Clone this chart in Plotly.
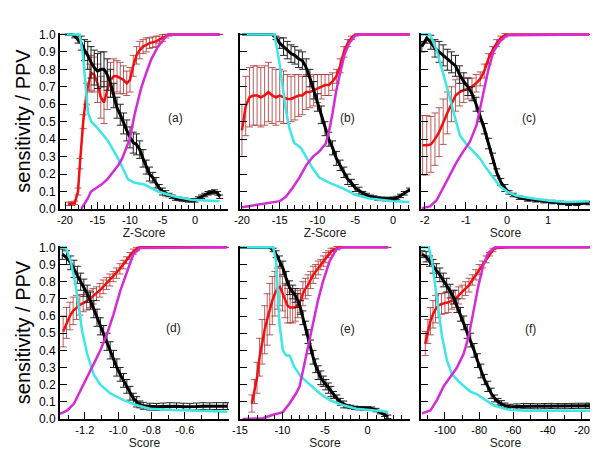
import plotly.graph_objects as go

# ---- panel (a) : Z-Score
a_cyan_x = [-20, -17.74, -17.23, -16.72, -16.46, -15.95, -14.92, -13.38, -11.85, -10.82, -10.31, -9.28, -7.74, -5.69, -3.13, -0.56, 3.8]
a_cyan_y = [1.0, 1.0, 0.88, 0.69, 0.55, 0.50, 0.46, 0.39, 0.29, 0.21, 0.17, 0.15, 0.14, 0.10, 0.072, 0.053, 0.044]
a_mag_x = [-17.5, -17, -16.5, -16, -15, -14.4, -13.5, -12.9, -11.8, -11.2, -10.8, -10.05, -9.3, -8.8, -8.3, -7.5, -6.7, -5.7, -4.9, -4.2, -2, 0, 2, 3.8]
a_mag_y = [0.0, 0.03, 0.06, 0.1, 0.125, 0.14, 0.17, 0.2, 0.25, 0.29, 0.33, 0.40, 0.54, 0.62, 0.69, 0.78, 0.86, 0.93, 0.97, 1.0, 1.0, 1.0, 1.0, 1.0]
a_red_x = [-19.5, -19, -18.5, -18, -17.7, -17.2, -16.7, -16.2, -16, -15.5, -15, -14.5, -14, -13.5, -13, -12.5, -12, -11.5, -11, -10.5, -10, -9.5, -9, -8.5, -8, -7.5, -7, -6.5, -6, -5.5, -5, -4.5, -4, -3, -2, -1, 0, 1, 2, 3, 3.8]
a_red_y = [0.03, 0.03, 0.035, 0.10, 0.26, 0.50, 0.66, 0.75, 0.78, 0.77, 0.72, 0.64, 0.61, 0.68, 0.74, 0.76, 0.76, 0.75, 0.74, 0.72, 0.74, 0.82, 0.88, 0.91, 0.93, 0.94, 0.95, 0.955, 0.96, 0.97, 0.98, 0.99, 1.0, 1.0, 1.0, 1.0, 1.0, 1.0, 1.0, 1.0, 1.0]
a_red_e = [0.01, 0.01, 0.01, 0.02, 0.03, 0.04, 0.06, 0.08, 0.1, 0.1, 0.11, 0.12, 0.12, 0.11, 0.1, 0.1, 0.09, 0.09, 0.08, 0.07, 0.07, 0.06, 0.05, 0.05, 0.04, 0.04, 0.03, 0.03, 0.03, 0.02, 0.02, 0.01, 0.01, 0, 0, 0, 0, 0, 0, 0, 0]
a_blk_x = [-20, -19, -18.5, -18, -17.5, -17, -16.5, -16, -15.5, -15, -14.5, -14, -13.5, -13, -12.5, -12, -11.5, -11, -10.5, -10, -9.5, -9, -8.5, -8, -7.5, -7, -6.5, -6, -5.5, -5, -4.5, -4, -3.5, -3, -2.5, -2, -1.5, -1, -0.5, 0, 0.5, 1, 1.5, 2, 2.5, 3, 3.5, 3.8]
a_blk_y = [1.0, 1.0, 0.99, 0.97, 0.95, 0.91, 0.88, 0.84, 0.81, 0.79, 0.80, 0.80, 0.77, 0.72, 0.65, 0.58, 0.54, 0.49, 0.45, 0.41, 0.38, 0.37, 0.34, 0.29, 0.24, 0.20, 0.18, 0.15, 0.12, 0.10, 0.09, 0.08, 0.07, 0.06, 0.058, 0.055, 0.052, 0.05, 0.05, 0.05, 0.06, 0.07, 0.08, 0.09, 0.095, 0.10, 0.09, 0.07]
a_blk_e = [0, 0, 0.01, 0.02, 0.04, 0.06, 0.08, 0.09, 0.1, 0.1, 0.1, 0.1, 0.09, 0.08, 0.07, 0.06, 0.06, 0.06, 0.06, 0.06, 0.06, 0.06, 0.05, 0.05, 0.04, 0.04, 0.03, 0.03, 0.02, 0.02, 0.015, 0.01, 0.01, 0.01, 0.01, 0.01, 0.01, 0.01, 0.01, 0.01, 0.01, 0.01, 0.01, 0.01, 0.01, 0.01, 0.01, 0.01]

# ---- panel (b) : Z-Score
b_cyan_x = [-20, -15.7, -15.05, -14.6, -14.2, -13.7, -13.1, -12.2, -11.5, -10.6, -9.75, -8.4, -6.7, -4.9, -3.1, -1.4, 0, 2.2]
b_cyan_y = [1.0, 1.0, 0.84, 0.71, 0.57, 0.46, 0.38, 0.35, 0.30, 0.23, 0.18, 0.15, 0.12, 0.08, 0.06, 0.05, 0.045, 0.04]
b_mag_x = [-20, -16.4, -15, -14.2, -13.3, -12.4, -11.5, -10.6, -9.75, -8.9, -8.4, -8.0, -7.55, -7.1, -6.45, -5.8, -4.9, 2.2]
b_mag_y = [0.01, 0.035, 0.045, 0.07, 0.12, 0.18, 0.25, 0.30, 0.33, 0.375, 0.46, 0.55, 0.67, 0.76, 0.88, 0.95, 1.0, 1.0]
b_red_x = [-20, -19.5, -19, -18.5, -18, -17.5, -17, -16.5, -16, -15.5, -15, -14.5, -14, -13.5, -13, -12.5, -12, -11.5, -11, -10.5, -10, -9.5, -9, -8.5, -8, -7.5, -7, -6.5, -6, -5.5, -5, -4, -3, -2, -1, 0, 1, 2.2]
b_red_y = [0.45, 0.59, 0.64, 0.65, 0.65, 0.64, 0.65, 0.67, 0.65, 0.64, 0.65, 0.64, 0.63, 0.63, 0.64, 0.65, 0.65, 0.67, 0.67, 0.68, 0.69, 0.70, 0.71, 0.71, 0.73, 0.76, 0.82, 0.90, 0.95, 0.98, 1.0, 1.0, 1.0, 1.0, 1.0, 1.0, 1.0, 1.0]
b_red_e = [0.15, 0.17, 0.17, 0.17, 0.17, 0.17, 0.17, 0.17, 0.16, 0.16, 0.15, 0.15, 0.14, 0.13, 0.13, 0.12, 0.11, 0.10, 0.09, 0.09, 0.08, 0.07, 0.06, 0.06, 0.05, 0.04, 0.04, 0.03, 0.02, 0.01, 0.01, 0, 0, 0, 0, 0, 0, 0]
b_blk_x = [-20, -16, -15.5, -15, -14.5, -14, -13.5, -13, -12.5, -12, -11.5, -11, -10.5, -10, -9.5, -9, -8.5, -8, -7.5, -7, -6.5, -6, -5.5, -5, -4.5, -4, -3.5, -3, -2.5, -2, -1.5, -1, -0.5, 0, 0.5, 1, 1.5, 2.2]
b_blk_y = [1.0, 1.0, 0.98, 0.95, 0.93, 0.91, 0.89, 0.88, 0.86, 0.85, 0.81, 0.75, 0.68, 0.61, 0.54, 0.46, 0.40, 0.35, 0.29, 0.25, 0.21, 0.17, 0.15, 0.12, 0.105, 0.09, 0.08, 0.07, 0.065, 0.06, 0.058, 0.057, 0.057, 0.058, 0.063, 0.075, 0.09, 0.11]
b_blk_e = [0, 0, 0.01, 0.03, 0.05, 0.05, 0.05, 0.05, 0.05, 0.05, 0.05, 0.05, 0.05, 0.05, 0.05, 0.04, 0.04, 0.04, 0.04, 0.03, 0.03, 0.03, 0.02, 0.02, 0.02, 0.01, 0.01, 0.01, 0.01, 0.01, 0.01, 0.01, 0.01, 0.01, 0.01, 0.01, 0.01, 0.01]

# ---- panel (c) : Score
c_cyan_x = [-2.1, -1.87, -1.71, -1.55, -1.38, -1.26, -1.14, -0.98, -0.82, -0.66, -0.49, -0.33, -0.17, 0, 0.23, 0.64, 1.04, 1.45, 2.0]
c_cyan_y = [1.0, 1.0, 0.91, 0.78, 0.63, 0.52, 0.42, 0.37, 0.33, 0.29, 0.23, 0.18, 0.13, 0.10, 0.076, 0.06, 0.047, 0.04, 0.044]
c_mag_x = [-2.07, -1.87, -1.71, -1.55, -1.38, -1.22, -1.06, -0.9, -0.74, -0.66, -0.57, -0.45, -0.33, -0.17, 0, 2.0]
c_mag_y = [0.005, 0.015, 0.05, 0.12, 0.195, 0.27, 0.33, 0.385, 0.48, 0.57, 0.67, 0.80, 0.90, 0.96, 0.995, 1.0]
c_red_x = [-2.05, -1.95, -1.85, -1.75, -1.65, -1.55, -1.45, -1.35, -1.25, -1.15, -1.05, -0.95, -0.85, -0.75, -0.65, -0.55, -0.45, -0.35, -0.25, -0.15, -0.05, 0.1, 0.3, 0.5, 0.7, 0.9, 1.1, 1.3, 1.5, 1.7, 2.0]
c_red_y = [0.365, 0.365, 0.37, 0.40, 0.44, 0.50, 0.55, 0.60, 0.65, 0.67, 0.68, 0.69, 0.70, 0.72, 0.745, 0.79, 0.86, 0.91, 0.95, 0.98, 0.995, 1.0, 1.0, 1.0, 1.0, 1.0, 1.0, 1.0, 1.0, 1.0, 1.0]
c_red_e = [0.17, 0.17, 0.16, 0.15, 0.14, 0.13, 0.12, 0.1, 0.09, 0.08, 0.07, 0.06, 0.05, 0.05, 0.04, 0.04, 0.03, 0.02, 0.02, 0.01, 0.01, 0, 0, 0, 0, 0, 0, 0, 0, 0, 0]
c_blk_x = [-2.07, -1.95, -1.85, -1.75, -1.65, -1.55, -1.45, -1.35, -1.25, -1.15, -1.05, -0.95, -0.85, -0.75, -0.65, -0.55, -0.45, -0.35, -0.25, -0.15, -0.05, 0.05, 0.15, 0.3, 0.5, 0.7, 0.9, 1.1, 1.3, 1.5, 1.7, 2.0]
c_blk_y = [0.93, 0.98, 0.955, 0.92, 0.90, 0.88, 0.855, 0.84, 0.82, 0.77, 0.73, 0.70, 0.66, 0.60, 0.53, 0.46, 0.375, 0.29, 0.21, 0.155, 0.12, 0.095, 0.08, 0.065, 0.055, 0.05, 0.045, 0.04, 0.035, 0.03, 0.03, 0.034]
c_blk_e = [0.03, 0.03, 0.04, 0.05, 0.06, 0.06, 0.06, 0.06, 0.06, 0.05, 0.05, 0.05, 0.04, 0.04, 0.03, 0.03, 0.03, 0.03, 0.02, 0.02, 0.02, 0.01, 0.01, 0.01, 0.01, 0.01, 0.01, 0.01, 0.01, 0.01, 0.01, 0.01]

# ---- panel (d) : Score
d_cyan_x = [-1.35, -1.315, -1.285, -1.255, -1.236, -1.216, -1.186, -1.147, -1.107, -1.048, -0.968, -0.889, -0.81, -0.671, -0.473, -0.345]
d_cyan_y = [1.0, 1.0, 0.92, 0.78, 0.65, 0.51, 0.38, 0.26, 0.20, 0.15, 0.11, 0.08, 0.06, 0.052, 0.046, 0.042]
d_mag_x = [-1.35, -1.305, -1.265, -1.226, -1.186, -1.147, -1.107, -1.067, -1.028, -0.988, -0.948, -0.909, -0.869, -0.6, -0.345]
d_mag_y = [0.03, 0.05, 0.09, 0.17, 0.245, 0.32, 0.40, 0.495, 0.61, 0.745, 0.86, 0.96, 0.996, 1.0, 1.0]
d_red_x = [-1.33, -1.31, -1.29, -1.27, -1.25, -1.23, -1.21, -1.19, -1.17, -1.15, -1.13, -1.11, -1.09, -1.07, -1.05, -1.03, -1.01, -0.99, -0.97, -0.95, -0.93, -0.91, -0.89, -0.87, -0.83, -0.79, -0.75, -0.71, -0.67, -0.63, -0.59, -0.55, -0.51, -0.47, -0.43, -0.39, -0.35]
d_red_y = [0.51, 0.56, 0.60, 0.63, 0.65, 0.665, 0.675, 0.685, 0.70, 0.715, 0.73, 0.75, 0.77, 0.79, 0.81, 0.83, 0.85, 0.875, 0.90, 0.925, 0.95, 0.975, 0.99, 1.0, 1.0, 1.0, 1.0, 1.0, 1.0, 1.0, 1.0, 1.0, 1.0, 1.0, 1.0, 1.0, 1.0]
d_red_e = [0.09, 0.09, 0.08, 0.08, 0.07, 0.06, 0.05, 0.05, 0.05, 0.045, 0.04, 0.04, 0.04, 0.035, 0.035, 0.03, 0.03, 0.03, 0.025, 0.02, 0.02, 0.015, 0.01, 0, 0, 0, 0, 0, 0, 0, 0, 0, 0, 0, 0, 0, 0]
d_blk_x = [-1.335, -1.31, -1.285, -1.265, -1.245, -1.225, -1.206, -1.186, -1.166, -1.146, -1.127, -1.107, -1.087, -1.067, -1.048, -1.028, -1.008, -0.988, -0.968, -0.948, -0.929, -0.909, -0.889, -0.87, -0.85, -0.81, -0.77, -0.73, -0.69, -0.65, -0.61, -0.57, -0.53, -0.49, -0.45, -0.41, -0.37, -0.345]
d_blk_y = [0.96, 0.94, 0.91, 0.875, 0.84, 0.80, 0.765, 0.73, 0.69, 0.64, 0.59, 0.54, 0.495, 0.45, 0.40, 0.35, 0.30, 0.26, 0.225, 0.19, 0.15, 0.12, 0.10, 0.085, 0.077, 0.072, 0.071, 0.073, 0.075, 0.074, 0.072, 0.071, 0.073, 0.075, 0.074, 0.075, 0.075, 0.075]
d_blk_e = [0.03, 0.04, 0.04, 0.05, 0.05, 0.05, 0.05, 0.05, 0.05, 0.05, 0.05, 0.05, 0.05, 0.05, 0.05, 0.05, 0.05, 0.04, 0.04, 0.04, 0.04, 0.03, 0.03, 0.02, 0.02, 0.02, 0.02, 0.02, 0.02, 0.02, 0.02, 0.02, 0.02, 0.02, 0.02, 0.02, 0.02, 0.02]

# ---- panel (e) : Score
e_cyan_x = [-15, -11.1, -10.75, -10.55, -10.35, -9.96, -9.57, -9.17, -8.58, -7.8, -6.8, -5.63, -4.45, -2.87, -1.3, 0.28, 2.44]
e_cyan_y = [1.0, 1.0, 0.92, 0.745, 0.55, 0.40, 0.37, 0.37, 0.30, 0.245, 0.20, 0.15, 0.11, 0.08, 0.06, 0.052, 0.042]
e_mag_x = [-14.7, -12.3, -11.1, -9.96, -9.17, -8.39, -7.99, -7.6, -7.0, -6.42, -5.83, -5.24, -4.45, -3.66, -2.87, 2.44]
e_mag_y = [0, 0.005, 0.025, 0.04, 0.09, 0.15, 0.19, 0.28, 0.42, 0.55, 0.69, 0.80, 0.92, 0.99, 1.0, 1.0]
e_red_x = [-13.6, -13.3, -13.0, -12.7, -12.4, -12.1, -11.8, -11.5, -11.2, -10.9, -10.6, -10.3, -10.0, -9.7, -9.4, -9.1, -8.8, -8.5, -8.2, -7.9, -7.6, -7.3, -7.0, -6.7, -6.4, -6.1, -5.8, -5.5, -5.2, -4.9, -4.6, -4.3, -4.0, -3.6, -3.2, -2.5, -1.5, -0.5, 0.5, 1.5, 2.4]
e_red_y = [0.09, 0.16, 0.24, 0.36, 0.45, 0.52, 0.58, 0.64, 0.69, 0.73, 0.76, 0.77, 0.73, 0.69, 0.66, 0.65, 0.65, 0.65, 0.67, 0.69, 0.73, 0.76, 0.78, 0.81, 0.84, 0.86, 0.88, 0.90, 0.92, 0.94, 0.96, 0.975, 0.985, 0.995, 1.0, 1.0, 1.0, 1.0, 1.0, 1.0, 1.0]
e_red_e = [0.05, 0.07, 0.09, 0.11, 0.13, 0.14, 0.15, 0.15, 0.14, 0.13, 0.12, 0.11, 0.1, 0.1, 0.1, 0.09, 0.09, 0.08, 0.08, 0.07, 0.07, 0.06, 0.06, 0.05, 0.05, 0.04, 0.04, 0.03, 0.03, 0.03, 0.02, 0.02, 0.01, 0.01, 0, 0, 0, 0, 0, 0, 0]
e_blk_x = [-15, -11.5, -11.1, -10.75, -10.35, -9.96, -9.57, -9.17, -8.8, -8.5, -8.2, -7.9, -7.6, -7.3, -7.0, -6.7, -6.4, -6.1, -5.8, -5.5, -5.2, -4.9, -4.6, -4.3, -4.0, -3.6, -3.2, -2.8, -2.4, -2.0, -1.5, -1.0, -0.5, 0, 0.5, 1.0, 1.5, 2.0, 2.4]
e_blk_y = [1.0, 1.0, 0.985, 0.96, 0.92, 0.88, 0.82, 0.765, 0.74, 0.72, 0.69, 0.65, 0.59, 0.53, 0.48, 0.42, 0.36, 0.31, 0.27, 0.24, 0.22, 0.20, 0.18, 0.16, 0.14, 0.12, 0.10, 0.085, 0.075, 0.07, 0.065, 0.063, 0.062, 0.062, 0.06, 0.052, 0.04, 0.025, 0.013]
e_blk_e = [0, 0, 0.01, 0.02, 0.03, 0.04, 0.04, 0.04, 0.04, 0.04, 0.04, 0.04, 0.04, 0.04, 0.04, 0.04, 0.04, 0.04, 0.04, 0.04, 0.03, 0.03, 0.03, 0.03, 0.02, 0.02, 0.02, 0.02, 0.01, 0.01, 0.01, 0.01, 0.01, 0.01, 0.01, 0.01, 0.01, 0.01, 0.01]

# ---- panel (f) : Score
f_cyan_x = [-114, -109.5, -107.6, -105.6, -103.7, -101.7, -98.8, -95.9, -91.1, -85.2, -81.4, -77.5, -71.7, -63.9, -54.2, -38.6, -15.3]
f_cyan_y = [1.0, 1.0, 0.92, 0.78, 0.63, 0.48, 0.34, 0.26, 0.21, 0.16, 0.145, 0.12, 0.08, 0.056, 0.048, 0.048, 0.048]
f_mag_x = [-113.4, -108.5, -104.7, -100.8, -96.9, -93, -89.1, -86.2, -83.3, -80.4, -77.5, -74.6, -70.7, -40, -15.3]
f_mag_y = [0.033, 0.05, 0.11, 0.19, 0.245, 0.30, 0.38, 0.48, 0.63, 0.78, 0.90, 0.97, 1.0, 1.0, 1.0]
f_red_x = [-111.5, -110, -108.5, -107, -105.5, -104, -102, -100, -98, -96, -94, -92, -90, -88, -86, -84, -82, -80, -78, -76, -74, -72, -70, -66, -62, -58, -54, -50, -46, -42, -38, -34, -30, -26, -22, -18, -15.5]
f_red_y = [0.44, 0.51, 0.57, 0.61, 0.64, 0.66, 0.67, 0.675, 0.68, 0.69, 0.70, 0.72, 0.74, 0.76, 0.78, 0.81, 0.84, 0.87, 0.90, 0.93, 0.96, 0.985, 0.996, 1.0, 1.0, 1.0, 1.0, 1.0, 1.0, 1.0, 1.0, 1.0, 1.0, 1.0, 1.0, 1.0, 1.0]
f_red_e = [0.07, 0.07, 0.08, 0.08, 0.08, 0.07, 0.06, 0.06, 0.06, 0.05, 0.05, 0.05, 0.04, 0.04, 0.04, 0.03, 0.03, 0.03, 0.02, 0.02, 0.01, 0.01, 0, 0, 0, 0, 0, 0, 0, 0, 0, 0, 0, 0, 0, 0, 0]
f_blk_x = [-113.4, -111, -109, -107, -105, -103, -101, -99, -97, -95, -93, -91, -89, -87, -85, -83, -81, -79, -77, -75, -73, -71, -69, -67, -65, -62, -58, -54, -50, -46, -42, -38, -34, -30, -26, -22, -18, -15.5]
f_blk_y = [0.96, 0.945, 0.92, 0.89, 0.865, 0.84, 0.81, 0.78, 0.745, 0.71, 0.66, 0.61, 0.56, 0.51, 0.46, 0.40, 0.34, 0.28, 0.23, 0.19, 0.15, 0.12, 0.10, 0.087, 0.078, 0.071, 0.073, 0.075, 0.075, 0.074, 0.075, 0.076, 0.075, 0.075, 0.076, 0.077, 0.077, 0.077]
f_blk_e = [0.02, 0.03, 0.03, 0.04, 0.04, 0.04, 0.04, 0.04, 0.04, 0.04, 0.04, 0.04, 0.04, 0.04, 0.04, 0.04, 0.04, 0.04, 0.03, 0.03, 0.03, 0.02, 0.02, 0.02, 0.015, 0.015, 0.015, 0.015, 0.015, 0.015, 0.015, 0.015, 0.015, 0.015, 0.015, 0.015, 0.015, 0.015]

panel_names = ['(a)', '(b)', '(c)', '(d)', '(e)', '(f)']
x_titles = ['Z-Score', 'Z-Score', 'Score', 'Score', 'Score', 'Score']
x_ranges = [[-20.77, 5.08], [-20.26, 2.25], [-2.09, 2.02], [-1.349, -0.335], [-15.0, 5.0], [-114.0, -15.3]]
x_tickvals = [[-20, -15, -10, -5, 0], [-20, -15, -10, -5, 0], [-2, -1, 0, 1],
              [-1.2, -1.0, -0.8, -0.6, -0.4], [-15, -10, -5, 0, 5], [-100, -80, -60, -40, -20]]
x_ticktext = [['-20', '-15', '-10', '-5', '0'], ['-20', '-15', '-10', '-5', '0'], ['-2', '-1', '0', '1'],
              ['-1.2', '-1.0', '-0.8', '-0.6', ''], ['-15', '-10', '-5', '0', ''], ['-100', '-80', '-60', '-40', '-20']]
x_minor = [1, 1, 0.25, 0.1, 1, 10]

curves = [
    (a_red_x, a_red_y, a_red_e, a_blk_x, a_blk_y, a_blk_e, a_cyan_x, a_cyan_y, a_mag_x, a_mag_y),
    (b_red_x, b_red_y, b_red_e, b_blk_x, b_blk_y, b_blk_e, b_cyan_x, b_cyan_y, b_mag_x, b_mag_y),
    (c_red_x, c_red_y, c_red_e, c_blk_x, c_blk_y, c_blk_e, c_cyan_x, c_cyan_y, c_mag_x, c_mag_y),
    (d_red_x, d_red_y, d_red_e, d_blk_x, d_blk_y, d_blk_e, d_cyan_x, d_cyan_y, d_mag_x, d_mag_y),
    (e_red_x, e_red_y, e_red_e, e_blk_x, e_blk_y, e_blk_e, e_cyan_x, e_cyan_y, e_mag_x, e_mag_y),
    (f_red_x, f_red_y, f_red_e, f_blk_x, f_blk_y, f_blk_e, f_cyan_x, f_cyan_y, f_mag_x, f_mag_y),
]

W, H = 600, 464
# pixel boxes of each plot area: (left, right, top, bottom)
boxes = [(60, 228, 33, 209), (240, 410, 33, 209), (421, 590, 33, 209),
         (60, 229, 246, 419), (240, 410, 246, 419), (421, 590, 246, 419)]
label_pos = [(0.744, 0.517), (0.688, 0.517), (0.69, 0.517), (0.726, 0.526), (0.688, 0.52), (0.69, 0.52)]

FONT = 'Liberation Sans, Arial, sans-serif'
RED = '#ee1111'
RED_ERR = 'rgba(170,50,50,0.8)'
CYAN = '#3ee6e6'
MAGENTA = '#d62ad6'

fig = go.Figure()
layout = {}
annotations = []

for i in range(6):
    n = '' if i == 0 else str(i + 1)
    xa, ya = 'x' + n, 'y' + n
    rx, ry, re_, kx, ky, ke, cx, cy, mx, my = curves[i]
    fig.add_trace(go.Scatter(x=rx, y=ry, xaxis=xa, yaxis=ya, mode='lines',
                             line=dict(color=RED, width=2.5),
                             error_y=dict(type='data', array=re_, color=RED_ERR, thickness=1, width=3.5)))
    fig.add_trace(go.Scatter(x=kx, y=ky, xaxis=xa, yaxis=ya, mode='lines',
                             line=dict(color='black', width=3),
                             error_y=dict(type='data', array=ke, color='#222222', thickness=1, width=3.5)))
    fig.add_trace(go.Scatter(x=cx, y=cy, xaxis=xa, yaxis=ya, mode='lines',
                             line=dict(color=CYAN, width=2.5)))
    fig.add_trace(go.Scatter(x=mx, y=my, xaxis=xa, yaxis=ya, mode='lines',
                             line=dict(color=MAGENTA, width=2.5)))

    l, r, t, b = boxes[i]
    left_col = i in (0, 3)
    layout['xaxis' + n] = dict(
        domain=[l / W, r / W], anchor=ya, range=x_ranges[i], automargin=False,
        showline=True, linecolor='black', linewidth=2, mirror=False,
        showgrid=False, zeroline=False,
        ticks='inside', ticklen=7, tickwidth=1.2, tickcolor='black',
        tickvals=x_tickvals[i], ticktext=x_ticktext[i],
        minor=dict(dtick=x_minor[i], ticks='inside', ticklen=4, tickwidth=1, tickcolor='black'),
        tickfont=dict(family=FONT, size=11, color='black'),
        title=dict(text=x_titles[i], font=dict(family=FONT, size=12, color='#222'), standoff=0),
    )
    layout['yaxis' + n] = dict(
        domain=[1 - b / H, 1 - t / H], anchor=xa, range=[0, 1.008], automargin=False,
        showline=True, linecolor='black', linewidth=2,
        showgrid=False, zeroline=False,
        ticks='inside', ticklen=7, tickwidth=1.2, tickcolor='black',
        tickvals=[0, 0.1, 0.2, 0.3, 0.4, 0.5, 0.6, 0.7, 0.8, 0.9, 1.0],
        ticktext=['0.0', '0.1', '0.2', '0.3', '0.4', '0.5', '0.6', '0.7', '0.8', '0.9', '1.0'],
        showticklabels=left_col,
        tickfont=dict(family=FONT, size=12, color='black'),
        title=dict(text='sensitivity / PPV' if left_col else '',
                   font=dict(family=FONT, size=20, color='black'), standoff=3),
    )
    lx, ly = label_pos[i]
    annotations.append(dict(text=panel_names[i], xref=xa + ' domain', yref=ya + ' domain',
                            x=lx, y=ly, showarrow=False,
                            font=dict(family=FONT, size=12, color='#222')))

fig.update_layout(**layout)
fig.update_layout(
    width=W, height=H,
    margin=dict(l=0, r=0, t=0, b=0),
    paper_bgcolor='white', plot_bgcolor='white',
    showlegend=False,
    annotations=annotations,
)

# page body has a default 8px margin; remove it so the figure sits at the window corner
fig.write_html("out.html", config={'displayModeBar': False},
               post_script="document.body.style.margin='0';")
